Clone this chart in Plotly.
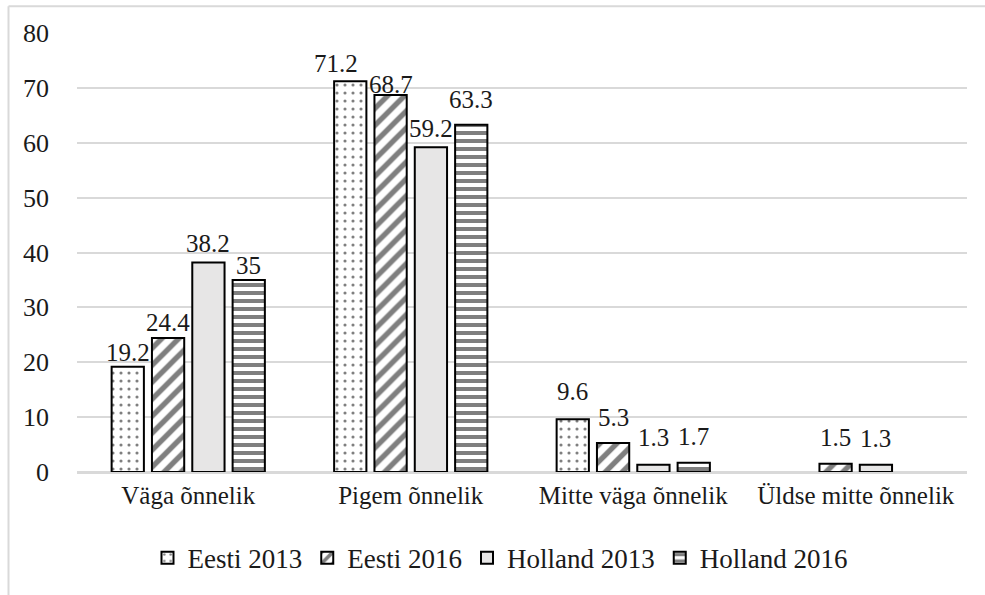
import plotly.graph_objects as go

# Survey answers: how happy respondents feel (%)
categories = ["Väga õnnelik", "Pigem õnnelik", "Mitte väga õnnelik", "Üldse mitte õnnelik"]
eesti_2013 = [19.2, 71.2, 9.6, None]
eesti_2016 = [24.4, 68.7, 5.3, 1.5]
holland_2013 = [38.2, 59.2, 1.3, 1.3]
holland_2016 = [35, 63.3, 1.7, None]
y_ticks = [0, 10, 20, 30, 40, 50, 60, 70, 80]

FONT = '"Liberation Serif", "Times New Roman", serif'
W, H = 985, 595
ML, MR, MT, MB = 77, 18, 33, 119
GRID = "#d9d9d9"
TXT = "#1a1a1a"
BARGAP = 0.275
GROUPGAP = 0.2

series = [
    ("Eesti 2013", eesti_2013, dict(shape=".", fgcolor="black", bgcolor="white", size=8, solidity=0.12)),
    ("Eesti 2016", eesti_2016, dict(shape="/", fgcolor="black", bgcolor="white", size=12, solidity=0.45)),
    ("Holland 2013", holland_2013, None),
    ("Holland 2016", holland_2016, dict(shape="-", fgcolor="black", bgcolor="white", size=8, solidity=0.5)),
]

# value-label placement tweaks (pixels): (dx, dy) per series, per category
label_nudge = [
    [(0, 0), (-14, 3), (0, 13), (0, 0)],
    [(0, 1), (0, -4), (0, 11), (0, 12)],
    [(0, 4), (0, 4), (0, 13), (0, 12)],
    [(0, 0), (0, 11), (0, 12), (0, 0)],
]


def label(v):
    return f"{v:g}"


fig = go.Figure()
for name, vals, pattern in series:
    marker = dict(color="#e7e6e6" if pattern is None else "white",
                  line=dict(color="black", width=2))
    if pattern is not None:
        marker["pattern"] = pattern
    fig.add_trace(go.Bar(name=name, x=categories, y=vals, marker=marker))

# value labels above each bar, placed at the bar's slot inside its group
n = len(series)
slot = (1 - BARGAP) / n
for k, (name, vals, _) in enumerate(series):
    for i, v in enumerate(vals):
        if v is None:
            continue
        dx, dy = label_nudge[k][i]
        fig.add_annotation(
            x=i + (k - (n - 1) / 2) * slot, y=v, xref="x", yref="y",
            text=label(v), showarrow=False, xanchor="center", yanchor="bottom",
            xshift=dx, yshift=dy, borderpad=0,
            font=dict(family=FONT, size=25, color=TXT),
        )

# chart-area frame (light grey, running off the right and bottom edges)
pw = W - ML - MR
ph = H - MT - MB


def px_x(x):
    return (x - ML) / pw


def px_y(y):
    return (H - MB - y) / ph


fig.add_shape(type="line", xref="paper", yref="paper",
              x0=px_x(8.5), x1=px_x(W + 5), y0=px_y(6), y1=px_y(6),
              line=dict(color=GRID, width=2))
fig.add_shape(type="line", xref="paper", yref="paper",
              x0=px_x(8.5), x1=px_x(8.5), y0=px_y(6), y1=px_y(H + 5),
              line=dict(color=GRID, width=2))

fig.update_layout(
    width=W, height=H,
    margin=dict(l=ML, r=MR, t=MT, b=MB),
    paper_bgcolor="white",
    plot_bgcolor="white",
    font=dict(family=FONT, size=25, color=TXT),
    barmode="group",
    bargap=BARGAP,
    bargroupgap=GROUPGAP,
    showlegend=True,
    legend=dict(orientation="h", x=px_x(500), xanchor="center",
                y=px_y(563), yanchor="middle",
                font=dict(family=FONT, size=27, color=TXT),
                itemwidth=30, traceorder="normal"),
    xaxis=dict(showgrid=False, showline=True, linecolor=GRID, linewidth=2,
               ticks="", tickfont=dict(family=FONT, size=25, color=TXT)),
    yaxis=dict(range=[0, 80], tickvals=y_ticks, showgrid=True, gridcolor=GRID,
               gridwidth=2, zeroline=True, zerolinecolor=GRID, zerolinewidth=2,
               showline=False, ticks="", ticklabelstandoff=27,
               tickfont=dict(family=FONT, size=26, color=TXT)),
)

fig.write_html("out.html")
